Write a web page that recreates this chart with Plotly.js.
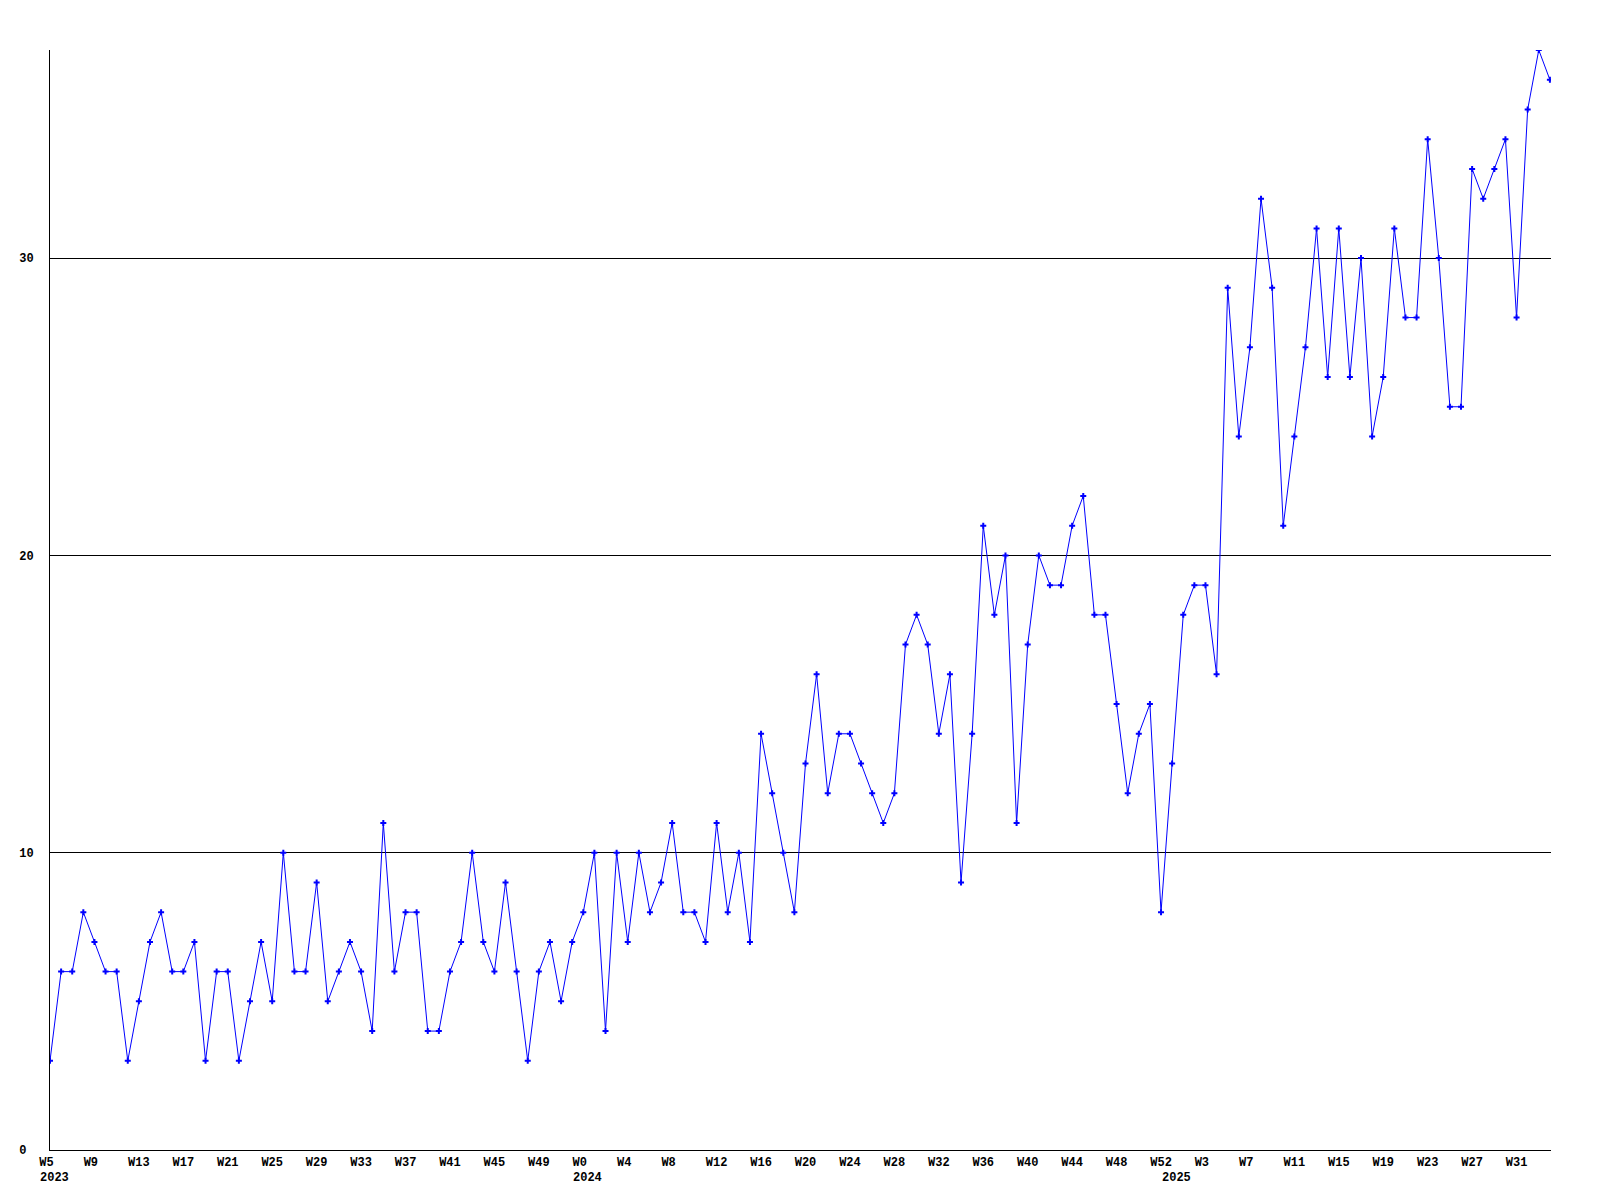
<!DOCTYPE html>
<html>
<head>
<meta charset="utf-8">
<script src="https://cdn.plot.ly/plotly-3.0.1.min.js"></script>
<style>
  html, body { margin: 0; padding: 0; background: #ffffff; }
  #chart { width: 1600px; height: 1200px; }
</style>
</head>
<body>
<div id="chart"></div>
<script>
// Weekly counts, 2023 W5 .. 2025 W34 (one value per week)
const values = [
  3, 6, 6, 8, 7, 6, 6, 3, 5, 7, 8, 6, 6, 7, 3, 6, 6, 3, 5, 7,
  5, 10, 6, 6, 9, 5, 6, 7, 6, 4, 11, 6, 8, 8, 4, 4, 6, 7, 10, 7,
  6, 9, 6, 3, 6, 7, 5, 7, 8, 10, 4, 10, 7, 10, 8, 9, 11, 8, 8, 7,
  11, 8, 10, 7, 14, 12, 10, 8, 13, 16, 12, 14, 14, 13, 12, 11, 12, 17, 18, 17,
  14, 16, 9, 14, 21, 18, 20, 11, 17, 20, 19, 19, 21, 22, 18, 18, 15, 12, 14, 15,
  8, 13, 18, 19, 19, 16, 29, 24, 27, 32, 29, 21, 24, 27, 31, 26, 31, 26, 30, 24,
  26, 31, 28, 28, 34, 30, 25, 25, 33, 32, 33, 34, 28, 35, 37, 36
];

// Week tick labels, one every four weeks starting at the first week
const weekTickLabels = [
  "W5", "W9", "W13", "W17", "W21", "W25", "W29", "W33", "W37", "W41", "W45", "W49",
  "W0", "W4", "W8", "W12", "W16", "W20", "W24", "W28", "W32", "W36", "W40", "W44", "W48", "W52",
  "W3", "W7", "W11", "W15", "W19", "W23", "W27", "W31"
];

// Year labels and the week index where each year starts
const yearLabels = ["2023", "2024", "2025"];
const yearStartIndex = [0, 48, 101];

const yTickValues = [0, 10, 20, 30];

// ---- build chart ----
const xIndex = values.map((_, i) => i);
const tickStep = 4;
const tickVals = weekTickLabels.map((_, i) => i * tickStep);
const NB = "\u00A0";
const tickText = weekTickLabels.map(t => t.length < 3 ? t + NB.repeat(3 - t.length) : t);

const monoFont = { family: "Liberation Mono, DejaVu Sans Mono, monospace", size: 12, color: "#000000", weight: "bold" };

const trace = {
  type: "scatter",
  mode: "lines+markers",
  x: xIndex,
  y: values,
  line: { color: "#0000ff", width: 1 },
  marker: { color: "#0000ff", symbol: "cross", size: 5 },
  hoverinfo: "x+y",
  cliponaxis: true
};

const annotations = yearLabels.map((label, i) => ({
  text: label,
  x: yearStartIndex[i],
  xref: "x",
  y: 0,
  yref: "paper",
  xanchor: "left",
  yanchor: "top",
  xshift: -12,
  yshift: -19,
  showarrow: false,
  font: monoFont
}));

const layout = {
  width: 1600,
  height: 1200,
  paper_bgcolor: "#ffffff",
  plot_bgcolor: "#ffffff",
  showlegend: false,
  margin: { l: 50, r: 49, t: 50, b: 50, pad: 0 },
  xaxis: {
    range: [0, 135.1],
    showgrid: false,
    zeroline: false,
    showline: true,
    linecolor: "#000000",
    linewidth: 1,
    tickmode: "array",
    tickvals: tickVals,
    ticktext: tickText,
    ticks: "",
    ticklabelstandoff: 1,
    tickfont: monoFont,
    tickangle: 0,
    fixedrange: true
  },
  yaxis: {
    range: [0, 37],
    showgrid: true,
    gridcolor: "#000000",
    gridwidth: 1,
    zeroline: false,
    showline: true,
    linecolor: "#000000",
    linewidth: 1,
    tickmode: "array",
    tickvals: yTickValues,
    ticktext: yTickValues.map(v => String(v).length < 2 ? String(v) + NB : String(v)),
    ticks: "",
    ticklabelstandoff: 13,
    tickfont: monoFont,
    fixedrange: true
  },
  annotations: annotations
};

Plotly.newPlot("chart", [trace], layout, { displayModeBar: false, staticPlot: true });
</script>
</body>
</html>
